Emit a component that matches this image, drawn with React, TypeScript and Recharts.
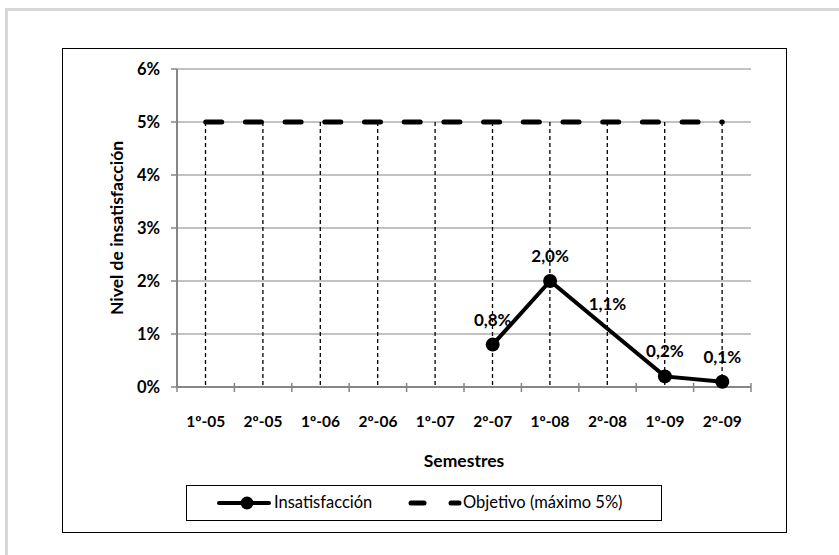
import React from 'react'
import { ComposedChart, Bar, Line, XAxis, YAxis, CartesianGrid, LabelList } from 'recharts'

const categories = ['1º-05', '2º-05', '1º-06', '2º-06', '1º-07', '2º-07', '1º-08', '2º-08', '1º-09', '2º-09']
const insatisfaccion: (number | null)[] = [null, null, null, null, null, 0.8, 2.0, 1.1, 0.2, 0.1]
const objetivo = [5, 5, 5, 5, 5, 5, 5, 5, 5, 5]
const yTicks = [0, 1, 2, 3, 4, 5, 6]
// point that Excel drew without a marker
const noMarker = [7]

const data = categories.map((semestre, i) => ({
  semestre,
  insatisfaccion: insatisfaccion[i],
  objetivo: objetivo[i],
}))

const FONT = 'Lato, "Open Sans", sans-serif'
const AXIS = '#868686'

const fmt = (v: number) => `${v.toFixed(1).replace('.', ',')}%`

// dashed drop line from the objective down to the axis
const DropLine = (props: any) => {
  const { x, y, width, height } = props
  if (x == null || height == null) return <g />
  const cx = x + width / 2
  return (
    <line x1={cx} x2={cx} y1={y} y2={y + height} stroke="#000" strokeWidth={1.3} strokeDasharray="4 3" />
  )
}

const XTick = (props: any) => {
  const { x, y, payload, index } = props
  const left = payload.coordinate - payload.offset
  const right = payload.coordinate + payload.offset
  return (
    <g>
      <line x1={left} x2={left} y1={y - 4} y2={y + 5} stroke={AXIS} strokeWidth={1.5} />
      {index === categories.length - 1 && (
        <line x1={right} x2={right} y1={y - 4} y2={y + 5} stroke={AXIS} strokeWidth={1.5} />
      )}
      <text x={x} y={y + 35} dy="0.35em" textAnchor="middle" fontFamily={FONT} fontWeight={700} fontSize={15.5} fill="#000">
        {payload.value}
      </text>
    </g>
  )
}

const Dot = (props: any) => {
  const { cx, cy, index, value } = props
  if (value == null || cx == null || noMarker.includes(index)) return <g key={`d-${index}`} />
  return <circle key={`d-${index}`} cx={cx} cy={cy} r={7} fill="#000" />
}

const DataLabel = (props: any) => {
  const { x, y, value } = props
  if (value == null) return null
  return (
    <text x={x} y={y - 19} textAnchor="middle" fontFamily={FONT} fontWeight={700} fontSize={17} fill="#000">
      {fmt(value)}
    </text>
  )
}

export default function App() {
  return (
    <div style={{ position: 'absolute', left: 0, top: 0, width: 839, height: 555, overflow: 'hidden', background: '#fff' }}>
      <div
        style={{
          position: 'absolute',
          left: 5,
          top: 8,
          width: 900,
          height: 600,
          borderLeft: '3px solid #d6d6d6',
          borderTop: '3px solid #d6d6d6',
        }}
      />
      <div style={{ position: 'absolute', left: 62, top: 48, width: 723, height: 483, border: '1px solid #000' }} />
      <div style={{ position: 'absolute', left: 0, top: 0 }}>
        <ComposedChart
          width={839}
          height={555}
          data={data}
          margin={{ top: 69, right: 88, left: 60, bottom: 83 }}
          barCategoryGap={0}
        >
          <CartesianGrid vertical={false} stroke={AXIS} strokeWidth={1.2} />
          <XAxis
            dataKey="semestre"
            height={85}
            tickSize={0}
            tickMargin={0}
            axisLine={{ stroke: AXIS, strokeWidth: 2 }}
            tickLine={false}
            tick={<XTick />}
            interval={0}
            label={{
              value: 'Semestres',
              position: 'insideBottom',
              offset: 5,
              fontFamily: FONT,
              fontWeight: 700,
              fontSize: 17.5,
              fill: '#000',
            }}
          />
          <YAxis
            width={117}
            domain={[0, 6]}
            ticks={yTicks}
            interval={0}
            tickSize={6}
            tickMargin={11}
            tickFormatter={(v) => `${v}%`}
            axisLine={{ stroke: AXIS, strokeWidth: 2 }}
            tickLine={{ stroke: AXIS, strokeWidth: 1.5 }}
            tick={{ fontFamily: FONT, fontWeight: 700, fontSize: 16.5, fill: '#000' }}
            label={{
              value: 'Nivel de insatisfacción',
              angle: -90,
              position: 'center',
              dx: -2,
              fontFamily: FONT,
              fontWeight: 700,
              fontSize: 17.5,
              fill: '#000',
            }}
          />
          <Bar dataKey="objetivo" shape={<DropLine />} fill="none" isAnimationActive={false} legendType="none" />
          <Line
            dataKey="objetivo"
            stroke="#000"
            strokeWidth={5}
            strokeDasharray="16 23.7"
            strokeLinecap="round"
            dot={false}
            activeDot={false}
            isAnimationActive={false}
          />
          <Line
            dataKey="insatisfaccion"
            stroke="#000"
            strokeWidth={4}
            dot={<Dot />}
            activeDot={false}
            isAnimationActive={false}
          >
            <LabelList dataKey="insatisfaccion" content={<DataLabel />} />
          </Line>
        </ComposedChart>
      </div>
      <div
        style={{
          position: 'absolute',
          left: 186,
          top: 485,
          width: 474,
          height: 34,
          border: '1px solid #000',
          fontFamily: FONT,
          fontSize: 16.5,
          color: '#000',
        }}
      >
        <svg width={474} height={34} style={{ position: 'absolute', left: 0, top: 0 }}>
          <line x1={32} x2={82} y1={17} y2={17} stroke="#000" strokeWidth={4} strokeLinecap="round" />
          <circle cx={60} cy={17} r={6.5} fill="#000" />
          <line x1={224} x2={237} y1={17} y2={17} stroke="#000" strokeWidth={5} strokeLinecap="round" />
          <line x1={264} x2={272} y1={17} y2={17} stroke="#000" strokeWidth={5} strokeLinecap="round" />
        </svg>
        <span style={{ position: 'absolute', left: 87, top: 6, lineHeight: '21px' }}>Insatisfacción</span>
        <span style={{ position: 'absolute', left: 276, top: 6, lineHeight: '21px' }}>Objetivo (máximo 5%)</span>
      </div>
    </div>
  )
}
